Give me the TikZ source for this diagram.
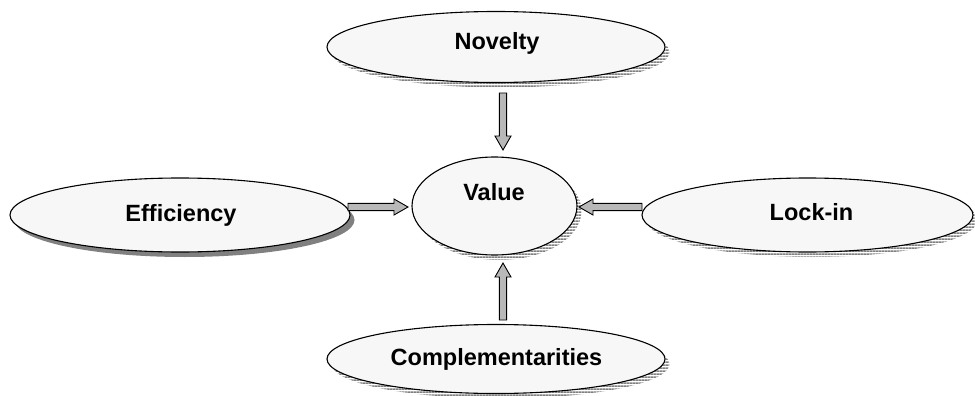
\documentclass[tikz,border=0pt]{standalone}
\usepackage{fontspec}
\setmainfont{Liberation Sans}
\usetikzlibrary{calc,patterns,shapes.geometric}

% horizontal stripes, 2pt of ink every 3pt
\pgfdeclarepatternformonly{thickhlines}{\pgfpoint{0pt}{0pt}}{\pgfpoint{3pt}{3pt}}{\pgfpoint{3pt}{3pt}}{%
  \pgfpathrectangle{\pgfpoint{-0.5pt}{0pt}}{\pgfpoint{4pt}{2pt}}\pgfusepath{fill}}

\tikzset{
  bubble/.style={ellipse, draw=black, line width=1.1pt, fill=black!3, inner sep=0pt},
  hatchshadow/.style={preaction={draw=none, pattern=thickhlines, pattern color=black!50,
      transform canvas={shift={(4.5pt,-5pt)}}}},
  softshadow/.style={preaction={draw=none, fill=black!50,
      transform canvas={shift={(4.5pt,-5pt)}}}},
  bubbletext/.style={font=\fontsize{23.5}{28}\selectfont\bfseries, anchor=base, inner sep=0pt},
  blockarrow/.style={draw=black, line width=0.9pt, fill=black!28, line join=miter,
    to path={
      let \p1=(\tikztostart), \p2=(\tikztotarget), \p3=($(\p2)!14pt!(\p1)$) in
      ($(\p1)!3.6pt!90:(\p2)$) -- ($(\p3)!3.6pt!90:(\p2)$) -- ($(\p3)!8pt!90:(\p2)$)
      -- (\p2)
      -- ($(\p3)!8pt!-90:(\p2)$) -- ($(\p3)!3.6pt!-90:(\p2)$) -- ($(\p1)!3.6pt!-90:(\p2)$)
      -- cycle}}
}

\begin{document}
\begin{tikzpicture}[x=1pt, y=-1pt]
  \useasboundingbox (0,0) rectangle (975,396);

  % the four driver ellipses and the central one
  \node[bubble, hatchshadow, minimum width=338pt, minimum height=71pt] (nov) at (496,47) {};
  \node[bubble, softshadow,  minimum width=340pt, minimum height=74pt] (eff) at (180,215) {};
  \node[bubble, hatchshadow, minimum width=331pt, minimum height=74pt] (lock) at (807.5,215) {};
  \node[bubble, hatchshadow, minimum width=338pt, minimum height=69pt] (comp) at (496,359) {};
  \node[bubble, hatchshadow, minimum width=165pt, minimum height=98pt] (val) at (494.5,206) {};

  % captions
  \node[bubbletext] (novT)  at (497,50)    {Novelty};
  \node[bubbletext] (effT)  at (181,221)   {Efficiency};
  \node[bubbletext] (lockT) at (811.5,220) {Lock-in};
  \node[bubbletext] (compT) at (496.5,365) {Complementarities};
  \node[bubbletext] (valT)  at (494,200)   {Value};

  % arrow end points in the gaps between the ellipses
  \coordinate (novA)  at (503,93);  \coordinate (novB)  at (503,150);
  \coordinate (effA)  at (348,207); \coordinate (effB)  at (408,207);
  \coordinate (lockA) at (642,207); \coordinate (lockB) at (579,207);
  \coordinate (compA) at (503,320); \coordinate (compB) at (503,263);

  \draw[blockarrow] (novA)  to (novB);
  \draw[blockarrow] (effA)  to (effB);
  \draw[blockarrow] (lockA) to (lockB);
  \draw[blockarrow] (compA) to (compB);
\end{tikzpicture}
\end{document}
